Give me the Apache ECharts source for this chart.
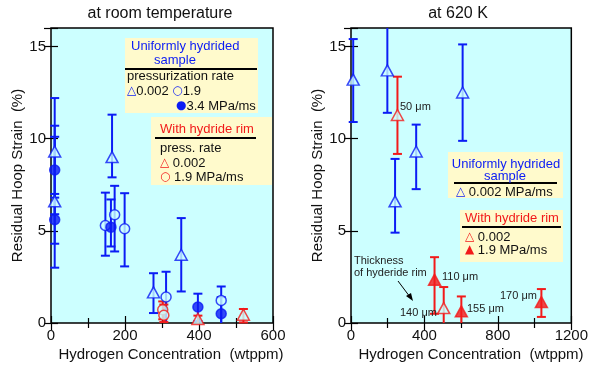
<!DOCTYPE html>
<html>
<head>
<meta charset="utf-8">
<script src="https://cdn.jsdelivr.net/npm/echarts@6/dist/echarts.min.js"></script>
<style>
  html, body { margin: 0; padding: 0; background: #fff; }
  #chart { width: 591px; height: 367px; }
</style>
</head>
<body>
<div id="chart"></div>
<script>
// each row: [hydrogen wtppm, strain %, lower bar, upper bar]
var roomUniTri = [[10, 9.3, 6.8, 12.2], [10, 6.6, 3.0, 10.1], [165, 9.0, 7.9, 11.3], [277, 1.66, 0.54, 2.7], [352, 3.7, 1.71, 5.69]];
var roomUniCirc = [[147, 5.29, 3.65, 7.07], [172, 5.87, 3.88, 7.44], [199, 5.11, 3.07, 7.04], [311, 1.41, -0.3, 2.78], [460, 1.22, -0.3, 1.98]];
var roomUniDot = [[10, 8.3, 5.9, 10.7], [10, 5.6, 4.3, 7.0], [162, 5.2, 4.15, 6.7], [397, 0.87, 0.1, 1.59], [460, 0.5, -0.4, 1.4]];
var roomRimTri = [[397, 0.22, -0.2, 0.4], [520, 0.45, 0.03, 0.76]];
var roomRimCirc = [[302, 0.72, 0.2, 1.17], [305, 0.42, 0.05, 1.0]];

var hotUniTri = [[12, 13.2, 10.9, 15.4], [198, 13.7, 11.4, 16.5], [240, 6.6, 4.9, 8.9], [355, 9.3, 7.26, 10.76], [608, 12.5, 9.88, 15.11]];
var hotRimTri = [[253, 11.28, 9.17, 13.36], [505, 0.81, -0.4, 1.95]];
var hotRimFill = [[455, 2.35, 0.5, 3.57], [601, 0.63, -0.2, 1.44], [1037, 1.14, 0.33, 1.84]];

var roomXTicks = [0, 600, 200];
var hotXTicks = [0, 1200, 400];
var strainTicks = [0, 16, 5];

var BLUE = '#0b1cf5', RED = '#f21a1a', BG = '#ccffff', NOTE = '#fffacc';
var FONT = '"Liberation Sans", Arial, sans-serif';

var chart = echarts.init(document.getElementById('chart'));

function errRender(color) {
    return function (params, api) {
        var x = api.value(0), lo = api.value(1), hi = api.value(2);
        var cs = params.coordSys;
        var top = api.coord([x, hi]), bot = api.coord([x, lo]);
        var y0 = cs.y, y1 = cs.y + cs.height;
        var px = top[0];
        var yt = Math.max(top[1], y0), yb = Math.min(bot[1], y1);
        var st = { stroke: color, lineWidth: 2 };
        var kids = [{ type: 'line', shape: { x1: px, y1: yt, x2: px, y2: yb }, style: st }];
        if (top[1] >= y0) kids.push({ type: 'line', shape: { x1: px - 4.5, y1: top[1], x2: px + 4.5, y2: top[1] }, style: st });
        if (bot[1] <= y1) kids.push({ type: 'line', shape: { x1: px - 4.5, y1: bot[1], x2: px + 4.5, y2: bot[1] }, style: st });
        return { type: 'group', children: kids };
    };
}

function bars(data, idx, color) {
    return {
        type: 'custom', xAxisIndex: idx, yAxisIndex: idx, z: 2,
        renderItem: errRender(color),
        encode: { x: 0, y: [1, 2] },
        data: data.map(function (d) { return [d[0], d[2], d[3]]; })
    };
}

function marks(data, idx, symbol, color, filled) {
    return {
        type: 'scatter', xAxisIndex: idx, yAxisIndex: idx, z: 3,
        symbol: symbol,
        symbolSize: symbol === 'triangle' ? [12, 11] : 10,
        itemStyle: { color: filled ? color : BG, borderColor: color, borderWidth: 1.5 },
        data: data.map(function (d) { return [d[0], d[1]]; })
    };
}

function xAx(grid, t, pos) {
    return {
        type: 'value', gridIndex: grid, position: pos, min: t[0], max: t[1], interval: t[2],
        axisLine: { show: false },
        axisTick: { inside: true, length: 7, lineStyle: { color: '#000', width: 1.2 } },
        minorTick: { show: true, splitNumber: 2, length: 5, lineStyle: { color: '#000', width: 1.2 } },
        axisLabel: {
            show: pos === 'bottom', fontFamily: FONT, fontSize: 15, color: '#111', margin: 5,
            formatter: function (v) { return String(v); }
        },
        splitLine: { show: false }
    };
}

function yAx(grid, pos) {
    return {
        type: 'value', gridIndex: grid, position: pos, min: strainTicks[0], max: strainTicks[1], interval: strainTicks[2],
        axisLine: { show: false },
        axisTick: { inside: true, length: 7, lineStyle: { color: '#000', width: 1.2 } },
        axisLabel: {
            show: pos === 'left', fontFamily: FONT, fontSize: 15, color: '#111', margin: 5,
            formatter: function (v) { return v === 16 ? '' : String(v); }
        },
        name: pos === 'left' ? 'Residual Hoop Strain  (%)' : '',
        nameLocation: 'middle', nameGap: 22, nameRotate: 90,
        nameTextStyle: { fontFamily: FONT, fontSize: 15, color: '#111' },
        splitLine: { show: false }
    };
}

function txt(x, y, s, color, size, align, rich) {
    return {
        type: 'text', x: x, y: y, z: 10,
        style: { text: s, fill: color, font: size + 'px ' + FONT, align: align || 'left', verticalAlign: 'middle', rich: rich }
    };
}
function box(x1, y1, x2, y2) {
    return { type: 'rect', z: 8, shape: { x: x1, y: y1, width: x2 - x1, height: y2 - y1 }, style: { fill: NOTE } };
}
function rule(x1, x2, y) {
    return { type: 'line', z: 9, shape: { x1: x1, y1: y, x2: x2, y2: y }, style: { stroke: '#000', lineWidth: 2 } };
}

var sym = function (c) { return { fill: c, font: '12px "DejaVu Sans"' }; };
var richLeft = { b: sym(BLUE), r: sym(RED) };

var option = {
    animation: false,
    grid: [
        { left: 51, right: 318, top: 28, bottom: 44, show: true, backgroundColor: BG, borderColor: '#000', borderWidth: 1.5 },
        { left: 351, right: 18, top: 28, bottom: 44, show: true, backgroundColor: BG, borderColor: '#000', borderWidth: 1.5 }
    ],
    xAxis: [xAx(0, roomXTicks, 'bottom'), xAx(1, hotXTicks, 'bottom'), xAx(0, roomXTicks, 'top'), xAx(1, hotXTicks, 'top')],
    yAxis: [yAx(0, 'left'), yAx(1, 'left'), yAx(0, 'right'), yAx(1, 'right')],
    series: [
        bars(roomUniTri, 0, BLUE), bars(roomUniCirc, 0, BLUE), bars(roomUniDot, 0, BLUE),
        bars(roomRimTri, 0, RED), bars(roomRimCirc, 0, RED),
        marks(roomUniTri, 0, 'triangle', BLUE, false), marks(roomUniCirc, 0, 'circle', BLUE, false),
        marks(roomUniDot, 0, 'circle', BLUE, true),
        marks(roomRimTri, 0, 'triangle', RED, false), marks(roomRimCirc, 0, 'circle', RED, false),
        bars(hotUniTri, 1, BLUE), bars(hotRimTri, 1, RED), bars(hotRimFill, 1, RED),
        marks(hotUniTri, 1, 'triangle', BLUE, false), marks(hotRimTri, 1, 'triangle', RED, false),
        marks(hotRimFill, 1, 'triangle', RED, true)
    ],
    graphic: [
        txt(160, 14, 'at room temperature', '#111', 16, 'center'),
        txt(458, 14, 'at 620 K', '#111', 16, 'center'),
        txt(171, 355, 'Hydrogen Concentration  (wtppm)', '#111', 15, 'center'),
        txt(471, 355, 'Hydrogen Concentration  (wtppm)', '#111', 15, 'center'),

        // left notes
        box(125, 38, 258, 113), rule(125, 257, 69),
        txt(131, 46, 'Uniformly hydrided', BLUE, 13),
        txt(154, 60, 'sample', BLUE, 13),
        txt(127, 76, 'pressurization rate', '#111', 13),
        txt(127, 91, '{b|△}0.002 {b|○}1.9', '#111', 13, 'left', richLeft),
        txt(176, 106, '{b|●}3.4 MPa/ms', '#111', 13, 'left', richLeft),
        box(151, 117, 272, 185), rule(155, 256, 138),
        txt(160, 129, 'With hydride rim', RED, 13),
        txt(160, 148, 'press. rate', '#111', 13),
        txt(160, 163, '{r|△} 0.002', '#111', 13, 'left', richLeft),
        txt(160, 177, '{r|○} 1.9 MPa/ms', '#111', 13, 'left', richLeft),

        // right notes
        box(448, 152, 563, 198), rule(454, 557, 183),
        txt(506, 164, 'Uniformly hydrided', BLUE, 13, 'center'),
        txt(505, 176, 'sample', BLUE, 13, 'center'),
        txt(456, 192, '{b|△} 0.002 MPa/ms', '#111', 13, 'left', richLeft),
        box(460, 210, 563, 262), rule(462, 561, 227),
        txt(512, 218, 'With hydride rim', RED, 13, 'center'),
        txt(465, 237, '{r|△} 0.002', '#111', 13, 'left', richLeft),
        txt(465, 250, '{r|▲} 1.9 MPa/ms', '#111', 13, 'left', richLeft),

        // rim thickness notes
        txt(400, 107, '50 μm', '#222', 11),
        txt(442, 277, '110 μm', '#222', 11),
        txt(400, 313, '140 μm', '#222', 11),
        txt(467, 309, '155 μm', '#222', 11),
        txt(500, 296, '170 μm', '#222', 11),
        txt(354, 261, 'Thickness', '#222', 11),
        txt(354, 273, 'of hyderide rim', '#222', 11),
        { type: 'line', z: 10, shape: { x1: 398, y1: 281, x2: 410, y2: 297 }, style: { stroke: '#000', lineWidth: 1 } },
        { type: 'polygon', z: 10, shape: { points: [[413, 301], [406, 296], [411, 293]] }, style: { fill: '#000' } }
    ]
};
chart.setOption(option);
</script>
</body>
</html>
